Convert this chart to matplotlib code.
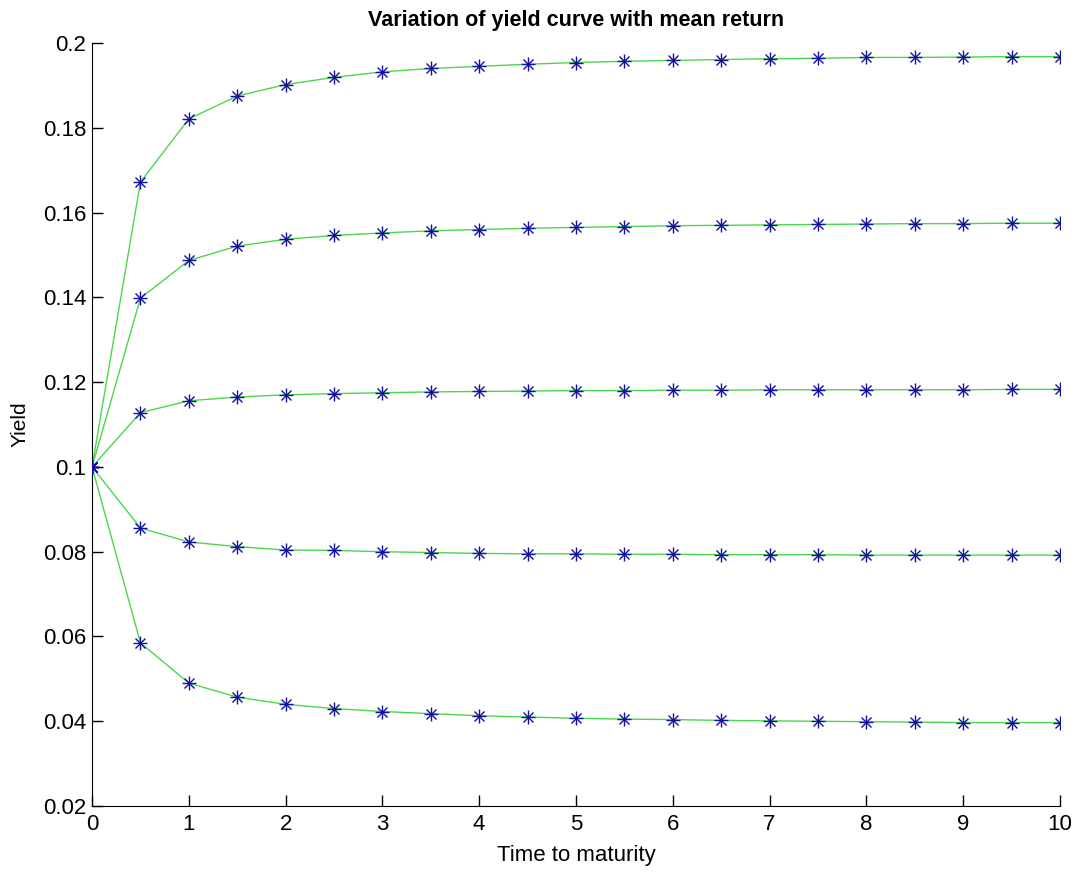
import numpy as np
import matplotlib.pyplot as plt

plt.rcParams['font.family'] = ['Liberation Sans', 'DejaVu Sans']

# Time to maturity (years)
maturity = np.arange(0, 10.5, 0.5)

# Yield curves for five different mean returns
yield_1 = [0.1, 0.1672, 0.1821, 0.1875, 0.1902, 0.1919, 0.1932, 0.1940, 0.1945, 0.1950,
           0.1954, 0.1957, 0.1959, 0.1961, 0.1963, 0.1964, 0.1966, 0.1966, 0.1967, 0.1968, 0.1968]
yield_2 = [0.1, 0.1398, 0.1487, 0.1521, 0.1537, 0.1546, 0.1552, 0.1557, 0.1560, 0.1563,
           0.1565, 0.1567, 0.1569, 0.1570, 0.1571, 0.1572, 0.1573, 0.1574, 0.1574, 0.1575, 0.1575]
yield_3 = [0.1, 0.1128, 0.1156, 0.1165, 0.1170, 0.1173, 0.1175, 0.1177, 0.1178, 0.1179,
           0.1180, 0.1180, 0.1181, 0.1181, 0.1182, 0.1182, 0.1182, 0.1182, 0.1182, 0.1183, 0.1183]
yield_4 = [0.1, 0.0856, 0.0823, 0.0812, 0.0804, 0.0803, 0.0800, 0.0798, 0.0796, 0.0795,
           0.0795, 0.0794, 0.0794, 0.0793, 0.0793, 0.0793, 0.0792, 0.0792, 0.0792, 0.0792, 0.0792]
yield_5 = [0.1, 0.0585, 0.0490, 0.0457, 0.0440, 0.0430, 0.0423, 0.0418, 0.0413, 0.0410,
           0.0407, 0.0405, 0.0404, 0.0402, 0.0401, 0.0400, 0.0399, 0.0398, 0.0397, 0.0397, 0.0397]

curves = [yield_1, yield_2, yield_3, yield_4, yield_5]

fig = plt.figure(figsize=(10.79, 8.73), dpi=100)
ax = fig.add_axes([0.0853, 0.0767, 0.897, 0.874])

line_col = '#4cd64c'
mark_col = '#10109a'
for y in curves:
    ax.plot(maturity, y, color=line_col, lw=1.0, zorder=2)
    # MATLAB-style asterisk: plus and cross overlaid
    ax.plot(maturity, y, ls='none', marker='+', ms=10.5, mew=1.0, color=mark_col, zorder=3)
    ax.plot(maturity, y, ls='none', marker='x', ms=7.4, mew=1.0, color=mark_col, zorder=3)

ax.set_xlim(0, 10)
ax.set_ylim(0.02, 0.2)
ax.set_xticks(np.arange(0, 11, 1))
ax.set_yticks(np.arange(0.02, 0.2001, 0.02))
ax.set_yticklabels(['0.02', '0.04', '0.06', '0.08', '0.1', '0.12', '0.14', '0.16', '0.18', '0.2'])
ax.tick_params(direction='in', length=8, labelsize=16, width=1)
ax.tick_params(axis='y', pad=4)
ax.tick_params(axis='x', pad=6)
ax.spines['top'].set_visible(False)
ax.spines['right'].set_visible(False)

ax.set_title('Variation of yield curve with mean return', fontsize=15.5, fontweight='bold', pad=12)
ax.set_xlabel('Time to maturity', fontsize=16, labelpad=7)
ax.set_ylabel('Yield', fontsize=15, labelpad=10)

fig.savefig('out.png', dpi=100)
